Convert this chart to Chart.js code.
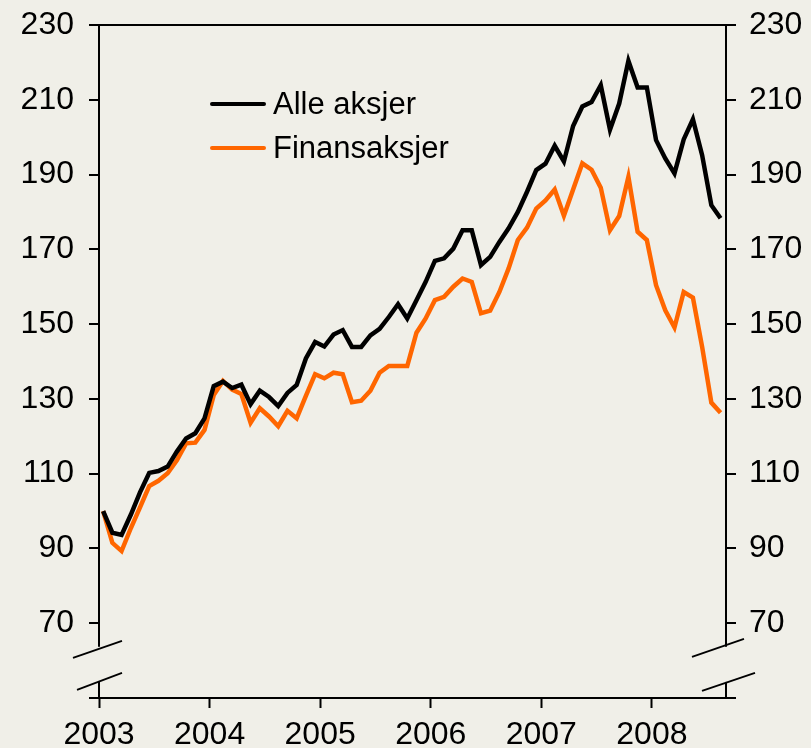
<!DOCTYPE html>
<html>
<head>
<meta charset="utf-8">
<title>Alle aksjer og finansaksjer</title>
<script src="https://cdn.jsdelivr.net/npm/chart.js@4.4.1/dist/chart.umd.min.js"></script>
<style>
  html, body { margin: 0; padding: 0; background: #f0efe8; }
  #wrap { position: relative; width: 811px; height: 748px; }
  #legend { position: absolute; left: 210px; top: 82px; font-family: "Liberation Sans", Arial, sans-serif; font-size: 31px; color: #000; }
  .item { display: flex; align-items: center; height: 44px; }
  .swatch { width: 56px; height: 4px; margin-right: 7px; border-radius: 2px; }
</style>
</head>
<body>
<div id="wrap">
  <canvas id="myChart" width="811" height="748"></canvas>
  <div id="legend"></div>
</div>
<script>
// Data: monthly index, January 2003 = 100
var seriesNames = ["Alle aksjer", "Finansaksjer"];
var seriesColors = ["#000000", "#ff6600"];

var alleAksjer = [100, 94.2, 93.6, 99, 105, 110.2, 110.7, 111.9, 115.9, 119.4, 120.8, 124.8,
  133.4, 134.6, 132.9, 133.8, 128.6, 132.2, 130.5, 128.1, 131.6, 133.7, 140.8, 145.2,
  144.0, 147.2, 148.4, 143.9, 143.9, 147.0, 148.7, 151.9, 155.3, 151.5, 156.4, 161.3,
  166.9, 167.6, 170.2, 175.1, 175.1, 165.8, 168.0, 172.0, 175.6, 180.0, 185.4, 191.2,
  192.9, 197.7, 193.5, 203.0, 208.2, 209.4, 213.9, 202.0, 209.0, 220.4, 213.3, 213.3,
  199.2, 194.3, 190.3, 199.4, 204.8, 195.2, 181.8, 178.3];

var finansAksjer = [100, 91.5, 89.3, 95.4, 101.0, 106.7, 108.1, 110.1, 113.6, 118.1, 118.3, 121.7,
  131.0, 134.8, 132.5, 131.3, 123.6, 127.5, 125.3, 122.7, 126.8, 124.8, 130.8, 136.6,
  135.5, 137.0, 136.6, 129.1, 129.5, 132.2, 137.0, 138.8, 138.8, 138.8, 147.7, 151.5,
  156.4, 157.3, 160.0, 162.2, 161.3, 152.9, 153.6, 158.6, 164.9, 172.5, 175.8, 180.9,
  183.1, 186.0, 179.0, 186.0, 193.0, 191.3, 186.5, 175.1, 178.9, 189.4, 174.7, 172.5,
  160.4, 153.7, 149.1, 158.6, 157.1, 143.9, 129.0, 126.3];

var yearLabels = ["2003", "2004", "2005", "2006", "2007", "2008"];
var yTicks = [50, 70, 90, 110, 130, 150, 170, 190, 210, 230];

var bgColor = "#f0efe8";
var fontFam = "'Liberation Sans', Arial, sans-serif";

// Convierte una serie a puntos {x: mes, y: valor}
function toPoints(arr) {
    return arr.map(function (v, i) { return { x: i + 0.45, y: v }; });
}

// Eje y: solo 50 y 230 dibujan linea de marco
function frameColor(ctx) {
    var v = ctx.tick ? ctx.tick.value : null;
    return (v === 50 || v === 230) ? "#000" : "rgba(0,0,0,0)";
}

function yAxis(pos, pad, w) {
    return {
        position: pos,
        min: 50, max: 230,
        afterBuildTicks: function (s) { s.ticks = yTicks.map(function (v) { return { value: v }; }); },
        afterFit: function (s) { s.width = w; s.paddingTop = 0; s.paddingBottom = 0; },
        border: { display: true, color: "#000", width: 2 },
        grid: { drawOnChartArea: pos === "left", color: frameColor, lineWidth: 2, tickLength: 10, tickColor: "#000", tickWidth: 2 },
        ticks: {
            padding: pad, color: "#000", font: { family: fontFam, size: 32 },
            callback: function (v) { return v === 50 ? "" : String(v); }
        }
    };
}

// Dibuja el corte de los ejes (break) en la parte baja
var axisBreak = {
    id: "axisBreak",
    afterDraw: function (chart) {
        var c = chart.ctx, a = chart.chartArea, y = chart.scales.y;
        var yTop = y.getPixelForValue(63.7), yBot = y.getPixelForValue(54.3);
        c.save();
        c.fillStyle = bgColor;
        c.fillRect(a.left - 3, yTop, 6, yBot - yTop);
        c.fillRect(a.right - 3, yTop, 6, yBot - yTop);
        c.strokeStyle = "#000";
        c.lineWidth = 1.8;
        var L = a.left, R = a.right;
        var segs = [
            [L - 26, yTop + 11, L + 23, yTop - 6], [L - 22, yBot + 8, L + 23, yBot - 9],
            [R - 34, yTop + 10, R + 18, yTop - 8], [R - 24, yBot + 9, R + 29, yBot - 9]
        ];
        segs.forEach(function (s) {
            c.beginPath(); c.moveTo(s[0], s[1]); c.lineTo(s[2], s[3]); c.stroke();
        });
        c.restore();
    }
};

// Leyenda en HTML
function buildLegend() {
    var html = "";
    for (var i = 0; i < seriesNames.length; i++) {
        html += '<div class="item"><span class="swatch" style="background:' + seriesColors[i] + '"></span>' + seriesNames[i] + '</div>';
    }
    document.getElementById("legend").innerHTML = html;
}

var chartData = {
    datasets: [
        { label: seriesNames[0], data: toPoints(alleAksjer), borderColor: seriesColors[0], borderWidth: 4.5, pointRadius: 0, tension: 0 },
        { label: seriesNames[1], data: toPoints(finansAksjer), borderColor: seriesColors[1], borderWidth: 4.5, pointRadius: 0, tension: 0 }
    ]
};

var chartOptions = {
    responsive: false,
    animation: false,
    devicePixelRatio: 1,
    layout: { padding: { top: 25, left: 0, right: 0, bottom: 0 } },
    plugins: { legend: { display: false }, tooltip: { enabled: false } },
    elements: { line: { borderJoinStyle: "miter", borderCapStyle: "butt" } },
    scales: {
        x: {
            type: "linear",
            min: 0, max: 68.04,
            afterBuildTicks: function (s) { s.ticks = yearLabels.map(function (l, k) { return { value: k * 12 }; }); },
            afterFit: function (s) { s.height = 50; s.paddingLeft = 0; s.paddingRight = 0; },
            border: { display: false },
            grid: { drawOnChartArea: false, tickLength: 10, tickColor: "#000", tickWidth: 2 },
            ticks: {
                padding: 8, color: "#000", maxRotation: 0, autoSkip: false, font: { family: fontFam, size: 32 },
                callback: function (v) { return yearLabels[Math.round(v / 12)]; }
            }
        },
        y: yAxis("left", 15, 99),
        y2: yAxis("right", 13, 85)
    }
};

new Chart("myChart", { type: "line", data: chartData, options: chartOptions, plugins: [axisBreak] });
buildLegend();
</script>
</body>
</html>
